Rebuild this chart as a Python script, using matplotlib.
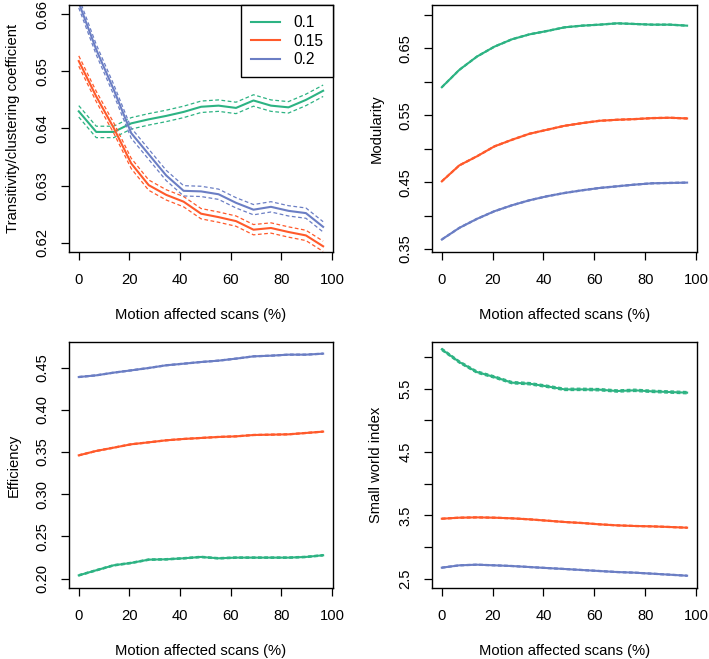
import matplotlib
matplotlib.use("Agg")
import matplotlib.pyplot as plt
from matplotlib.lines import Line2D

plt.rcParams['font.family'] = ['Liberation Sans', 'DejaVu Sans']

# ---------------- data ----------------
x_pct = [0, 6.9, 13.8, 20.7, 27.6, 34.5, 41.4, 48.3, 55.2, 62.1, 69.0, 75.9, 82.8, 89.7, 96.5]
series_names = ["0.1", "0.15", "0.2"]
colors = ["#2DB383", "#FF5A2B", "#6B7EC4"]

trans_01 = [0.6430, 0.6394, 0.6394, 0.6409, 0.6416, 0.6422, 0.6429, 0.6438, 0.6440, 0.6436, 0.6449, 0.6440, 0.6437, 0.6450, 0.6466]
trans_015 = [0.6518, 0.6456, 0.6401, 0.6339, 0.6301, 0.6284, 0.6272, 0.6251, 0.6245, 0.6238, 0.6223, 0.6226, 0.6219, 0.6213, 0.6194]
trans_02 = [0.6620, 0.6538, 0.6468, 0.6392, 0.6355, 0.6318, 0.6291, 0.6290, 0.6285, 0.6270, 0.6258, 0.6263, 0.6256, 0.6252, 0.6228]
trans_ci = [0.0010, 0.0009, 0.0009]

mod_01 = [0.592, 0.618, 0.6378, 0.6527, 0.6637, 0.6711, 0.6761, 0.6816, 0.6841, 0.6856, 0.6876, 0.6866, 0.6856, 0.6856, 0.6841]
mod_015 = [0.4512, 0.4751, 0.4886, 0.5035, 0.5134, 0.5224, 0.5284, 0.5343, 0.5383, 0.5418, 0.5433, 0.5443, 0.5458, 0.5463, 0.5453]
mod_02 = [0.3642, 0.3816, 0.3950, 0.4065, 0.4154, 0.4229, 0.4289, 0.4338, 0.4378, 0.4413, 0.4438, 0.4463, 0.4483, 0.4488, 0.4493]
mod_ci = [0.0008, 0.0008, 0.0008]

eff_01 = [0.2039, 0.2099, 0.2158, 0.2186, 0.2225, 0.2229, 0.2241, 0.2257, 0.2241, 0.2249, 0.2249, 0.2249, 0.2249, 0.2257, 0.2277]
eff_015 = [0.3461, 0.3513, 0.3552, 0.3592, 0.3615, 0.3639, 0.3655, 0.3667, 0.3679, 0.3686, 0.3702, 0.3706, 0.3710, 0.3726, 0.3742]
eff_02 = [0.4389, 0.4409, 0.4441, 0.4468, 0.4496, 0.4528, 0.4547, 0.4567, 0.4583, 0.4607, 0.4634, 0.4642, 0.4654, 0.4654, 0.4666]
eff_ci = [0.0008, 0.0006, 0.0006]

sw_01 = [6.121, 5.921, 5.763, 5.684, 5.595, 5.579, 5.537, 5.489, 5.489, 5.484, 5.463, 5.474, 5.458, 5.447, 5.437]
sw_015 = [3.447, 3.463, 3.468, 3.463, 3.453, 3.437, 3.416, 3.395, 3.379, 3.358, 3.342, 3.332, 3.326, 3.316, 3.305]
sw_02 = [2.674, 2.711, 2.721, 2.711, 2.700, 2.684, 2.668, 2.653, 2.637, 2.621, 2.605, 2.595, 2.579, 2.563, 2.547]
sw_ci = [0.018, 0.008, 0.008]

x_ticks = [0, 20, 40, 60, 80, 100]
trans_ticks = [0.62, 0.63, 0.64, 0.65, 0.66]
trans_labels = ["0.62", "0.63", "0.64", "0.65", "0.66"]
mod_ticks = [0.35, 0.40, 0.45, 0.50, 0.55, 0.60, 0.65, 0.70]
mod_labels = ["0.35", "", "0.45", "", "0.55", "", "0.65", ""]
eff_ticks = [0.20, 0.25, 0.30, 0.35, 0.40, 0.45]
eff_labels = ["0.20", "0.25", "0.30", "0.35", "0.40", "0.45"]
sw_ticks = [2.5, 3.0, 3.5, 4.0, 4.5, 5.0, 5.5, 6.0]
sw_labels = ["2.5", "", "3.5", "", "4.5", "", "5.5", ""]

# ---------------- figure ----------------
W, H = 709, 659
fig = plt.figure(figsize=(W / 100, H / 100), dpi=100)

def px_axes(left, top, right, bottom):
    return fig.add_axes([left / W, 1 - bottom / H, (right - left) / W, (bottom - top) / H])

panels = [
    dict(box=(69, 5, 333, 252), data=[trans_01, trans_015, trans_02], ci=trans_ci,
         ylim=(0.6184, 0.6616), ticks=trans_ticks, labels=trans_labels,
         ylabel="Transitivity/clustering coefficient", legend=True),
    dict(box=(432, 5, 697, 252), data=[mod_01, mod_015, mod_02], ci=mod_ci,
         ylim=(0.3455, 0.715), ticks=mod_ticks, labels=mod_labels,
         ylabel="Modularity", legend=False),
    dict(box=(69, 342, 333, 588), data=[eff_01, eff_015, eff_02], ci=eff_ci,
         ylim=(0.1889, 0.4804), ticks=eff_ticks, labels=eff_labels,
         ylabel="Efficiency", legend=False),
    dict(box=(432, 342, 697, 588), data=[sw_01, sw_015, sw_02], ci=sw_ci,
         ylim=(2.353, 6.237), ticks=sw_ticks, labels=sw_labels,
         ylabel="Small world index", legend=False),
]

fs = 10.6
for p in panels:
    ax = px_axes(*p["box"])
    for vals, hw, col in zip(p["data"], p["ci"], colors):
        lo = [v - hw for v in vals]
        hi = [v + hw for v in vals]
        ax.plot(x_pct, lo, color=col, lw=0.9, ls=(0, (3, 2)))
        ax.plot(x_pct, hi, color=col, lw=0.9, ls=(0, (3, 2)))
        ax.plot(x_pct, vals, color=col, lw=1.5, solid_joinstyle="round")
    ax.set_xlim(-3.86, 100.4)
    ax.set_ylim(*p["ylim"])
    ax.set_xticks(x_ticks)
    ax.set_xticklabels([str(t) for t in x_ticks])
    ax.set_yticks(p["ticks"])
    ax.set_yticklabels(p["labels"], rotation=90, va="center")
    ax.tick_params(axis="both", direction="out", length=6, width=0.9,
                   labelsize=fs, colors="black")
    ax.tick_params(axis="x", pad=9)
    ax.tick_params(axis="y", pad=8)
    for s in ax.spines.values():
        s.set_linewidth(1.0)
        s.set_color("black")
    ax.set_xlabel("Motion affected scans (%)", fontsize=fs, labelpad=15)
    ax.set_ylabel(p["ylabel"], fontsize=fs, labelpad=11)
    if p["legend"]:
        handles = [Line2D([0], [0], color=c, lw=1.5) for c in colors]
        leg = ax.legend(handles, series_names, loc="upper right",
                        bbox_to_anchor=(1, 1), borderaxespad=0, fancybox=False,
                        edgecolor="black", framealpha=1, fontsize=fs + 0.6,
                        handlelength=1.9, handletextpad=0.8, borderpad=0.65,
                        labelspacing=0.22)
        leg.get_frame().set_linewidth(1.0)

fig.savefig("out.png", dpi=100)
